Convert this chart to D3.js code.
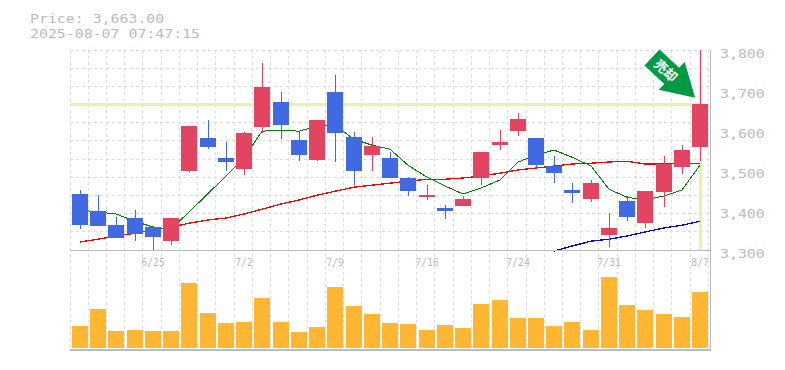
<!DOCTYPE html>
<html>
<head>
<meta charset="utf-8">
<script src="https://cdn.jsdelivr.net/npm/d3@7"></script>
<style>
  html, body { margin: 0; padding: 0; background: #fff; }
  svg { display: block; }
  text { font-family: "DejaVu Sans Mono", monospace; fill: #bbb; }
</style>
</head>
<body>
<div id="chart"></div>
<script>
const priceLabel = 'Price: 3,663.00';
const timeLabel = '2025-08-07 07:47:15';
const currentPrice = 3663;

const opens  = [3440,3397,3362,3380,3357,3322,3497,3580,3530,3502,3607,3670,3575,3525,3695,3582,3537,3530,3480,3432,3405,3410,3480,3562,3597,3580,3510,3450,3427,3337,3422,3367,3445,3507,3557];
const closes = [3362,3360,3330,3340,3332,3380,3610,3557,3520,3592,3705,3612,3537,3625,3592,3497,3560,3480,3447,3437,3397,3427,3545,3570,3627,3512,3492,3442,3467,3355,3382,3447,3515,3550,3663];
const highs  = [3450,3437,3382,3400,3360,3380,3610,3625,3570,3595,3765,3695,3595,3625,3737,3595,3582,3545,3482,3460,3412,3435,3545,3600,3642,3580,3535,3465,3475,3392,3435,3447,3535,3562,3800];
const lows   = [3352,3360,3330,3322,3298,3312,3495,3552,3497,3487,3592,3577,3522,3522,3520,3462,3497,3480,3435,3425,3377,3410,3462,3550,3585,3505,3467,3417,3420,3307,3372,3355,3407,3490,3522];
const volumes = [22,39,17,18,17,17,65,35,25,26,50,26,16,21,61,42,34,25,24,18,23,20,44,48,30,30,22,26,18,71,43,38,34,31,56];

const maShort = [3400,3395,3390,3372,3357,3352,3395,3441,3485,3530,3597,3600,3597,3610,3612,3577,3562,3552,3512,3482,3460,3440,3455,3475,3520,3537,3550,3532,3510,3452,3432,3425,3435,3450,3512];
const maMid = [3320,3327,3335,3342,3350,3357,3367,3375,3380,3390,3402,3415,3425,3437,3447,3457,3462,3467,3472,3477,3477,3480,3485,3492,3500,3505,3510,3515,3517,3520,3522,3515,3515,3517,3517];
const maLong = [null,null,null,null,null,null,null,null,null,null,null,null,null,null,null,null,null,null,null,null,null,null,null,null,null,null,3297,3310,3322,3327,3335,3345,3355,3362,3372];

const priceTicks = [3800,3700,3600,3500,3400,3300];
const dateLabels = ['6/25','7/2','7/9','7/16','7/24','7/31','8/7'];
const dateIndexes = [4,9,14,19,24,29,34];

const RED = '#e24462';
const BLUE = '#4169e1';
const GRID = '#ddd';
const FRAME = '#bbb';
const HILITE = '#e2f5a8';

const plotLeft = 70, plotRight = 708.4, plotTop = 50, priceBottom = 250, volBottom = 349;

const svg = d3.select('#chart').append('svg')
  .attr('width', 785)
  .attr('height', 370);

const x = d3.scaleBand().domain(d3.range(opens.length)).range([plotLeft, plotRight]);
const y = d3.scaleLinear().domain([3300, 3800]).range([priceBottom, plotTop]);
const yVol = d3.scaleLinear().domain([0, 100]).range([volBottom - 1, volBottom - 101]);

const slot = i => Math.round(x(i)) + 2;
const yPx = v => Math.floor(y(v));
const BODY = 16;

svg.append('clipPath').attr('id', 'priceClip').append('rect')
  .attr('x', plotLeft).attr('y', plotTop).attr('width', plotRight - plotLeft + 2).attr('height', priceBottom - plotTop + 2);

// grid
const grid = svg.append('g')
  .attr('stroke', GRID)
  .attr('stroke-dasharray', '3,3')
  .attr('shape-rendering', 'crispEdges');

grid.selectAll('.v').data(d3.range(opens.length + 1)).enter().append('line')
  .attr('class', 'v')
  .attr('x1', i => Math.floor(plotLeft + i * x.step()) + 0.5)
  .attr('x2', i => Math.floor(plotLeft + i * x.step()) + 0.5)
  .attr('y1', plotTop)
  .attr('y2', volBottom);

grid.selectAll('.h').data(d3.range(11)).enter().append('line')
  .attr('class', 'h')
  .attr('x1', plotLeft)
  .attr('x2', 710)
  .attr('y1', i => Math.floor(plotTop + i * 200 / 11) + 0.5)
  .attr('y2', i => Math.floor(plotTop + i * 200 / 11) + 0.5);

// current price and time marks
svg.append('line')
  .attr('x1', plotLeft).attr('x2', x(34) + 10)
  .attr('y1', yPx(currentPrice) + 0.5).attr('y2', yPx(currentPrice) + 0.5)
  .attr('stroke', HILITE).attr('stroke-width', 3)
  .attr('shape-rendering', 'crispEdges');

svg.append('line')
  .attr('x1', slot(34) + BODY / 2 + 0.5).attr('x2', slot(34) + BODY / 2 + 0.5)
  .attr('y1', plotTop).attr('y2', priceBottom)
  .attr('stroke', HILITE).attr('stroke-width', 3)
  .attr('shape-rendering', 'crispEdges');

// moving averages
const line = d3.line()
  .defined(d => d !== null)
  .x((d, i) => slot(i) + BODY / 2)
  .y(d => y(d));

const lines = svg.append('g')
  .attr('clip-path', 'url(#priceClip)')
  .attr('fill', 'none')
  .attr('shape-rendering', 'crispEdges');

lines.append('path').attr('d', line(maLong)).attr('stroke', '#00f').attr('stroke-width', 1.3);
lines.append('path').attr('d', line(maMid)).attr('stroke', '#f00').attr('stroke-width', 1.3);
lines.append('path').attr('d', line(maShort)).attr('stroke', '#008000').attr('stroke-width', 1);

// candles
const candles = svg.append('g').attr('shape-rendering', 'crispEdges');
const color = i => closes[i] >= opens[i] ? RED : BLUE;

candles.selectAll('.wick').data(d3.range(opens.length)).enter().append('rect')
  .attr('class', 'wick')
  .attr('x', i => slot(i) + BODY / 2)
  .attr('width', 1)
  .attr('y', i => yPx(highs[i]))
  .attr('height', i => yPx(lows[i]) - yPx(highs[i]))
  .attr('fill', color);

candles.selectAll('.body').data(d3.range(opens.length)).enter().append('rect')
  .attr('class', 'body')
  .attr('x', slot)
  .attr('width', BODY)
  .attr('y', i => yPx(Math.max(opens[i], closes[i])))
  .attr('height', i => Math.abs(yPx(opens[i]) - yPx(closes[i])))
  .attr('fill', color);

// volume
svg.append('g').attr('shape-rendering', 'crispEdges')
  .selectAll('rect').data(volumes).enter().append('rect')
  .attr('x', (d, i) => slot(i))
  .attr('width', BODY)
  .attr('y', d => yVol(d))
  .attr('height', d => yVol(0) - yVol(d))
  .attr('fill', '#ffb733');

// frame
const frame = svg.append('g').attr('stroke', FRAME).attr('shape-rendering', 'crispEdges');
frame.append('line').attr('x1', plotLeft).attr('x2', 711).attr('y1', priceBottom + 0.5).attr('y2', priceBottom + 0.5);
frame.append('line').attr('x1', plotLeft).attr('x2', 711).attr('y1', 350).attr('y2', 350).attr('stroke-width', 2);
frame.append('line').attr('x1', 710.5).attr('x2', 710.5).attr('y1', plotTop).attr('y2', 351);

// arrow
const arrow = svg.append('g').attr('transform', 'translate(652,57.5) rotate(43)');
arrow.append('path')
  .attr('d', 'M0,-11 L27,-11 L27,-19 L59,0 L27,19 L27,11 L0,11 Z')
  .attr('fill', '#009944');
arrow.append('text')
  .attr('x', 19)
  .attr('y', 5)
  .attr('text-anchor', 'middle')
  .style('font-family', '"Noto Sans CJK JP"')
  .style('font-weight', 'bold')
  .style('font-size', '13px')
  .style('fill', '#fff')
  .text('売却');

// texts, stretched sideways to the wide look of the original labels
const wideText = (sel, size, advance) => sel
  .style('font-size', size)
  .attr('lengthAdjust', 'spacingAndGlyphs')
  .attr('textLength', d => String(d).length * advance);

const wideLabel = (txt, px, py) => svg.append('text').datum(txt)
  .attr('x', px).attr('y', py).text(txt)
  .call(wideText, '13px', 8.95);

wideLabel(priceLabel, 30, 23);
wideLabel(timeLabel, 30, 37.5);

svg.selectAll('.tick-price').data(priceTicks.map(d3.format(','))).enter().append('text')
  .attr('class', 'tick-price')
  .attr('x', 720)
  .attr('y', (d, i) => y(priceTicks[i]) + 8)
  .text(d => d)
  .call(wideText, '13px', 8.95);

svg.selectAll('.tick-date').data(dateLabels).enter().append('text')
  .attr('class', 'tick-date')
  .attr('x', (d, i) => slot(dateIndexes[i]) + BODY / 2)
  .attr('y', 266)
  .attr('text-anchor', 'middle')
  .text(d => d)
  .call(wideText, '11px', 5.9);
</script>
</body>
</html>
